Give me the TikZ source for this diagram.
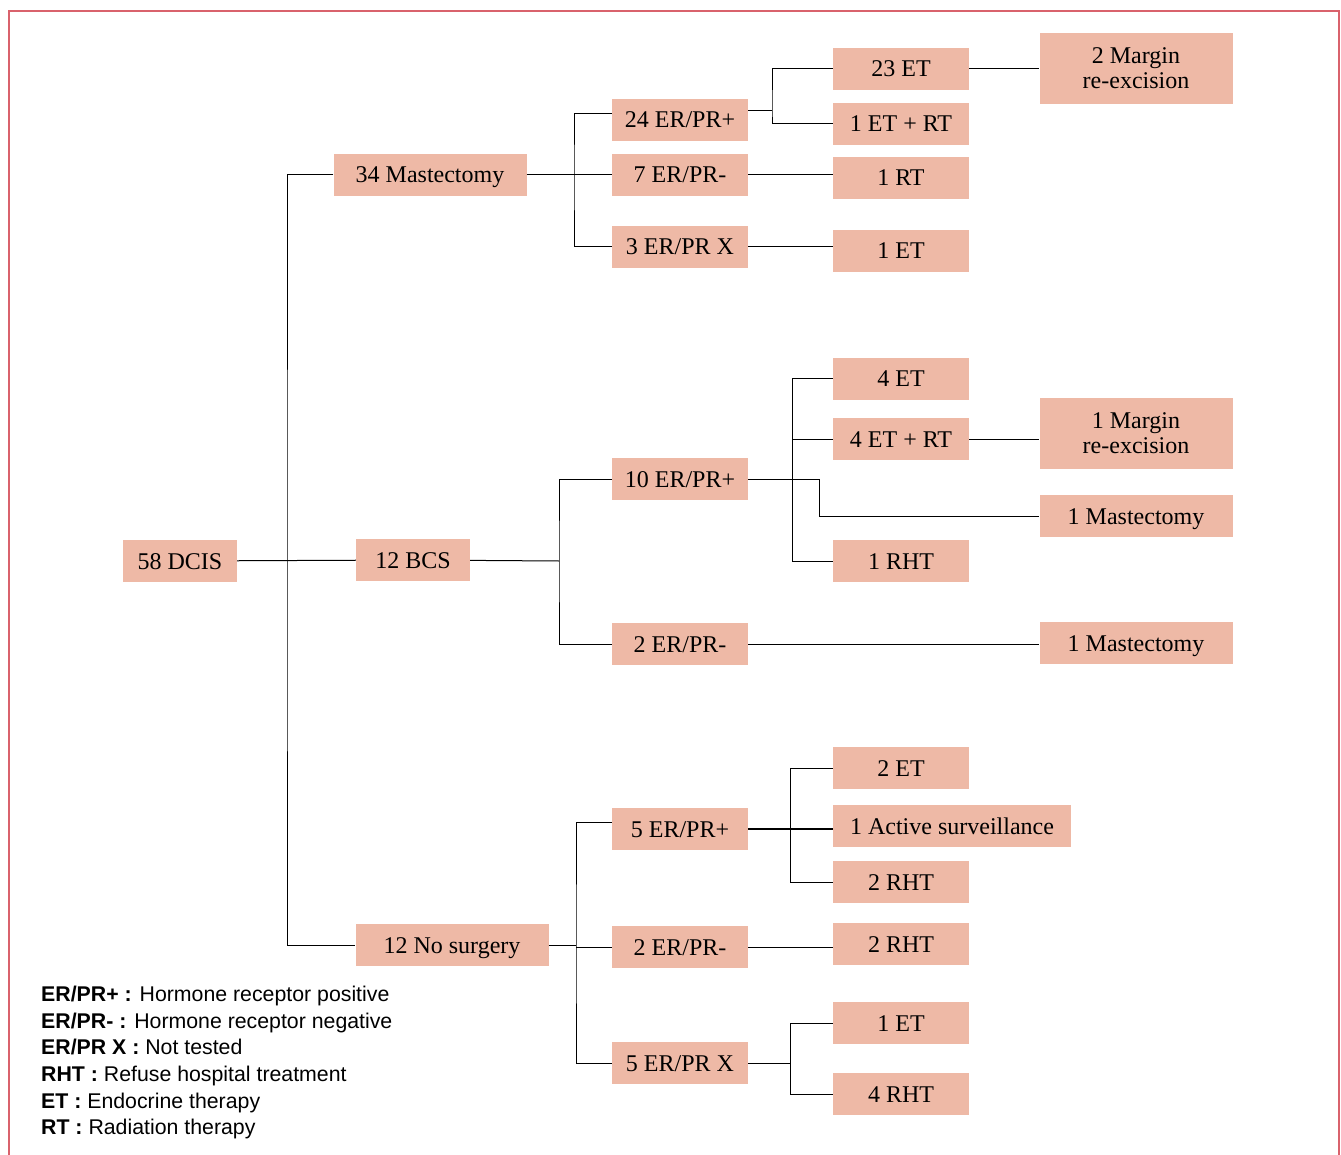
\documentclass[tikz,border=0pt]{standalone}
\usepackage{fontspec}
\setmainfont{Liberation Serif}
\newfontfamily\legendfont{Liberation Sans}
\usetikzlibrary{positioning}
\definecolor{boxfill}{RGB}{238,185,166}
\definecolor{framered}{RGB}{217,98,108}
\tikzset{
  box/.style={fill=boxfill, minimum height=42pt, inner sep=0pt, align=center, font=\fontsize{24}{25}\selectfont},
  linebox/.style={box, text height=16pt, text depth=0pt},
  smallbox/.style={linebox, minimum width=136pt},
  widebox/.style={linebox, minimum width=193pt},
  marginbox/.style={box, minimum width=193pt, minimum height=71pt},
  link/.style={draw, line width=1pt},
  legendtext/.style={anchor=north west, inner sep=0pt, align=left, font=\legendfont\fontsize{21.3}{26.6}\selectfont}
}

\begin{document}
\begin{tikzpicture}[x=1pt, y=-1pt]
\useasboundingbox (0,0) rectangle (1341,1155);

% Frame
\draw[framered, line width=1.2pt] (9,1155) -- (9,11) -- (1339,11) -- (1339,1155);

% Nodes
\node[linebox, minimum width=114pt] (dcis) at (180,561) {58 DCIS};
\node[widebox] (mast) at (430,175) {34 Mastectomy};
\node[linebox, minimum width=114pt] (bcs) at (413,560) {12 BCS};
\node[widebox] (nosurg) at (452,945) {12 No surgery};

\node[smallbox] (erp1) at (680,120) {24 ER/PR+};
\node[smallbox] (erm1) at (680,175) {7 ER/PR-};
\node[smallbox] (erx1) at (680,247) {3 ER/PR X};
\node[smallbox] (erp2) at (680,479) {10 ER/PR+};
\node[smallbox] (erm2) at (680,644) {2 ER/PR-};
\node[smallbox] (erp3) at (680,829) {5 ER/PR+};
\node[smallbox] (erm3) at (680,947) {2 ER/PR-};
\node[smallbox] (erx3) at (680,1063) {5 ER/PR X};

\node[smallbox] (et23) at (901,69) {23 ET};
\node[smallbox] (etrt1) at (901,124) {1 ET + RT};
\node[smallbox] (rt1) at (901,178) {1 RT};
\node[smallbox] (et1a) at (901,251) {1 ET};
\node[smallbox] (et4) at (901,379) {4 ET};
\node[smallbox] (etrt4) at (901,439) {4 ET + RT};
\node[smallbox] (rht1) at (901,561) {1 RHT};
\node[smallbox] (et2) at (901,768) {2 ET};
\node[linebox, minimum width=238pt] (active) at (952,826) {1 Active surveillance};
\node[smallbox] (rht2) at (901,882) {2 RHT};
\node[smallbox] (rht3) at (901,944) {2 RHT};
\node[smallbox] (et1b) at (901,1023) {1 ET};
\node[smallbox] (rht4) at (901,1094) {4 RHT};

\node[marginbox] (margin2) at (1136,68.5) {2 Margin\\re-excision};
\node[marginbox] (margin1) at (1136,433.5) {1 Margin\\re-excision};
\node[widebox] (mastb) at (1136,516) {1 Mastectomy};
\node[widebox] (mastc) at (1136,643) {1 Mastectomy};

% Legend
\node[legendtext] (legend) at (41,986) {\textbf{ER/PR+ :} Hormone receptor positive\\
\textbf{ER/PR- :} Hormone receptor negative\\
\textbf{ER/PR X :} Not tested\\
\textbf{RHT :} Refuse hospital treatment\\
\textbf{ET :} Endocrine therapy\\
\textbf{RT :} Radiation therapy};

% Junctions
\coordinate (j0) at (287,561);
\coordinate (j1) at (574,175);
\coordinate (j2) at (772,111);
\coordinate (j3) at (559,561);
\coordinate (j4) at (792,479);
\coordinate (j5) at (819,479);
\coordinate (j6) at (576,945);
\coordinate (j7) at (790,828);
\coordinate (j8) at (790,1063);

% Connections
\draw[link] (dcis) -- (bcs);
\draw[link] (mast.west) -| (j0) |- (nosurg.west);

\draw[link] (mast.east) -- (erm1.west);
\draw[link] ([yshift=6pt]erp1.west) -| (j1) |- (erx1.west);
\draw[link] ([yshift=9pt]erp1.east) -- (j2);
\draw[link] (et23.west) -| (j2) |- (etrt1.west);
\draw[link] (et23.east) -- (et23.east -| margin2.west);
\draw[link] (erm1.east) -- (erm1.east -| rt1.west);
\draw[link] (erx1.east) -- (erx1.east -| et1a.west);

\draw[link] (bcs) -- (j3);
\draw[link] (erp2.west) -| (j3) |- (erm2.west);
\draw[link] (et4.west) -| (j4) |- (rht1.west);
\draw[link] (etrt4.west) -- (etrt4.west -| j4);
\draw[link] (erp2.east) -- (j5) |- (mastb.west);
\draw[link] (etrt4.east) -- (etrt4.east -| margin1.west);
\draw[link] (erm2.east) -- (erm2.east -| mastc.west);

\draw[link] (nosurg) -- (j6);
\draw[link] ([yshift=7pt]erp3.west) -| (j6) |- (erx3.west);
\draw[link] (erm3.west) -- (erm3.west -| j6);
\draw[link, line width=2pt] (erp3.east) -- (erp3.east -| active.west);
\draw[link] (et2.west) -| (j7) |- (rht2.west);
\draw[link] (erm3.east) -- (erm3.east -| rht3.west);
\draw[link] (erx3) -- (j8);
\draw[link] (et1b.west) -| (j8) |- (rht4.west);

\end{tikzpicture}
\end{document}
